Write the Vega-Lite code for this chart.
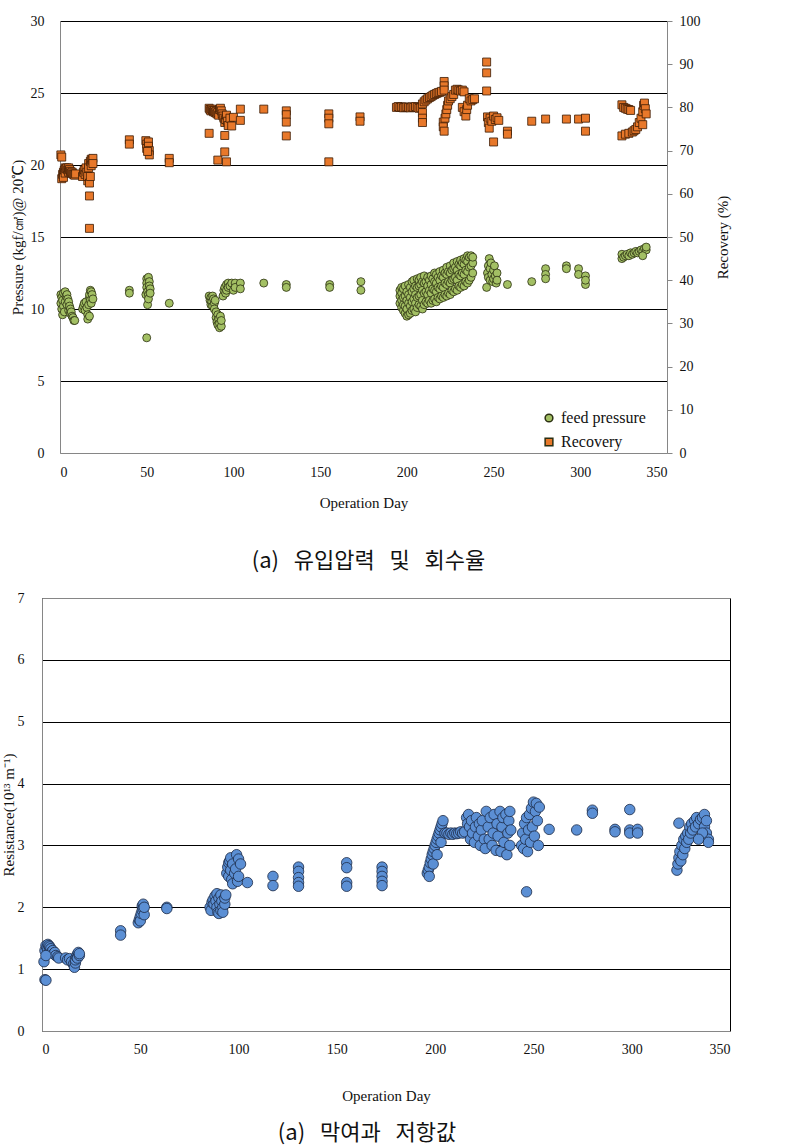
{
  "$schema": "https://vega.github.io/schema/vega-lite/v6.json",
  "background": "white",
  "padding": {"left": 0, "top": 14, "right": 5, "bottom": 5},
  "config": {
    "font": "Liberation Serif",
    "view": {"stroke": null},
    "axis": {
      "labelFont": "Liberation Serif", "titleFont": "Liberation Serif",
      "labelColor": "#111", "titleColor": "#111", "titleFontWeight": "normal",
      "labelFontSize": 14, "titleFontSize": 15,
      "domainColor": "#868686", "tickColor": "#868686", "gridOpacity": 1
    }
  },
  "datasets": {
    "pressure": [
      {"d":0.5,"v":11.0},{"d":0.5,"v":10.4},{"d":1,"v":10.8},{"d":1,"v":10.0},{"d":1.5,"v":9.6},{"d":1.5,"v":10.6},{"d":2,"v":11.1},{"d":2,"v":10.2},{"d":2.5,"v":9.8},{"d":3,"v":11.2},{"d":3,"v":10.5},{"d":3.5,"v":10.9},{"d":4,"v":11.0},{"d":4,"v":10.3},{"d":4.5,"v":10.7},{"d":5,"v":10.5},{"d":5,"v":9.9},{"d":5.5,"v":10.2},{"d":6,"v":10.0},{"d":6,"v":9.7},{"d":6.5,"v":9.8},{"d":7,"v":9.5},{"d":7.5,"v":9.4},{"d":8,"v":9.2},{"d":8.5,"v":9.2},
      {"d":13,"v":10.0},{"d":13.5,"v":10.2},{"d":14,"v":10.4},{"d":14.5,"v":9.9},{"d":15,"v":10.5},{"d":15.5,"v":10.1},{"d":16,"v":9.6},{"d":16,"v":9.3},{"d":16.5,"v":10.3},{"d":17,"v":10.8},{"d":17,"v":11.0},{"d":17,"v":9.5},{"d":17.5,"v":11.3},{"d":17.5,"v":10.6},{"d":18,"v":11.2},{"d":18,"v":10.4},{"d":18.5,"v":11.0},{"d":19,"v":10.7},
      {"d":40,"v":11.3},{"d":40,"v":11.1},
      {"d":49.5,"v":11.0},{"d":50,"v":12.1},{"d":50,"v":11.8},{"d":50,"v":11.5},{"d":50,"v":8.0},{"d":50.5,"v":11.2},{"d":50.5,"v":10.3},{"d":51,"v":11.0},{"d":51,"v":10.7},{"d":51,"v":12.2},{"d":51.5,"v":11.9},{"d":51.5,"v":11.6},{"d":52,"v":11.4},{"d":52,"v":11.1},
      {"d":63,"v":10.4},
      {"d":86,"v":10.9},{"d":86.5,"v":10.6},{"d":87,"v":10.3},{"d":87,"v":10.8},{"d":87.5,"v":10.5},{"d":88,"v":10.9},{"d":88,"v":10.2},{"d":88.5,"v":10.7},{"d":89,"v":10.4},{"d":89,"v":10.0},{"d":89.5,"v":10.6},{"d":90,"v":9.8},{"d":90,"v":9.4},{"d":90.5,"v":9.1},{"d":91,"v":8.9},{"d":91,"v":9.6},{"d":91.5,"v":9.3},{"d":92,"v":8.7},{"d":92,"v":9.0},{"d":92.5,"v":9.5},{"d":93,"v":8.8},{"d":93,"v":9.2},
      {"d":94,"v":10.9},{"d":94.5,"v":11.3},{"d":95,"v":11.5},{"d":95.5,"v":11.1},{"d":96,"v":11.7},{"d":96,"v":11.3},{"d":97,"v":11.8},{"d":97,"v":11.5},{"d":98,"v":11.6},{"d":99,"v":11.8},{"d":100,"v":11.3},{"d":101,"v":11.8},{"d":101,"v":11.5},{"d":104,"v":11.8},{"d":104,"v":11.4},
      {"d":117.5,"v":11.8},{"d":130.5,"v":11.7},{"d":130.5,"v":11.5},{"d":155.5,"v":11.7},{"d":155.5,"v":11.5},{"d":173.5,"v":11.9},{"d":173.5,"v":11.3},
      {"d":196,"v":10.4},{"d":196,"v":10.9},{"d":196,"v":11.3},
      {"d":197,"v":10.1},{"d":197,"v":10.6},{"d":197,"v":11.1},{"d":197,"v":11.5},
      {"d":198,"v":9.9},{"d":198,"v":10.3},{"d":198,"v":10.8},{"d":198,"v":11.4},
      {"d":199,"v":9.7},{"d":199,"v":10.2},{"d":199,"v":10.9},{"d":199,"v":11.6},
      {"d":200,"v":9.5},{"d":200,"v":10.0},{"d":200,"v":10.6},{"d":200,"v":11.2},
      {"d":201,"v":9.6},{"d":201,"v":10.4},{"d":201,"v":11.0},{"d":201,"v":11.7},
      {"d":202,"v":9.7},{"d":202,"v":10.2},{"d":202,"v":10.8},{"d":202,"v":11.5},
      {"d":203,"v":9.9},{"d":203,"v":10.5},{"d":203,"v":11.2},{"d":203,"v":11.9},
      {"d":204,"v":10.0},{"d":204,"v":10.7},{"d":204,"v":11.4},{"d":204,"v":12.0},
      {"d":205,"v":9.8},{"d":205,"v":10.4},{"d":205,"v":11.0},{"d":205,"v":11.6},
      {"d":206,"v":10.1},{"d":206,"v":10.8},{"d":206,"v":11.5},{"d":206,"v":12.1},
      {"d":207,"v":10.3},{"d":207,"v":10.9},{"d":207,"v":11.6},{"d":207,"v":12.0},
      {"d":208,"v":10.2},{"d":208,"v":11.0},{"d":208,"v":11.7},{"d":208,"v":12.2},
      {"d":209,"v":10.0},{"d":209,"v":10.6},{"d":209,"v":11.3},{"d":209,"v":11.9},
      {"d":210,"v":10.3},{"d":210,"v":11.1},{"d":210,"v":11.8},{"d":210,"v":12.3},
      {"d":211,"v":10.5},{"d":211,"v":11.2},{"d":211,"v":11.9},
      {"d":212,"v":10.4},{"d":212,"v":11.0},{"d":212,"v":11.6},{"d":212,"v":12.2},
      {"d":213,"v":10.6},{"d":213,"v":11.3},{"d":213,"v":12.0},
      {"d":214,"v":10.4},{"d":214,"v":11.1},{"d":214,"v":11.7},{"d":214,"v":12.3},
      {"d":215,"v":10.6},{"d":215,"v":11.4},{"d":215,"v":12.1},
      {"d":216,"v":10.7},{"d":216,"v":11.3},{"d":216,"v":11.9},{"d":216,"v":12.5},
      {"d":217,"v":10.5},{"d":217,"v":11.2},{"d":217,"v":11.8},{"d":217,"v":12.4},
      {"d":218,"v":10.8},{"d":218,"v":11.5},{"d":218,"v":12.2},
      {"d":219,"v":10.7},{"d":219,"v":11.4},{"d":219,"v":12.0},{"d":219,"v":12.6},
      {"d":220,"v":10.9},{"d":220,"v":11.6},{"d":220,"v":12.3},
      {"d":221,"v":10.8},{"d":221,"v":11.5},{"d":221,"v":12.2},{"d":221,"v":12.7},
      {"d":222,"v":11.0},{"d":222,"v":11.8},{"d":222,"v":12.5},
      {"d":223,"v":10.9},{"d":223,"v":11.7},{"d":223,"v":12.4},{"d":223,"v":12.9},
      {"d":224,"v":11.1},{"d":224,"v":11.9},{"d":224,"v":12.6},
      {"d":225,"v":11.0},{"d":225,"v":11.8},{"d":225,"v":12.5},{"d":225,"v":13.0},
      {"d":226,"v":11.3},{"d":226,"v":12.0},{"d":226,"v":12.7},
      {"d":227,"v":11.2},{"d":227,"v":12.1},{"d":227,"v":12.8},{"d":227,"v":13.2},
      {"d":228,"v":11.4},{"d":228,"v":12.2},{"d":228,"v":12.9},
      {"d":229,"v":11.3},{"d":229,"v":12.0},{"d":229,"v":12.7},{"d":229,"v":13.3},
      {"d":230,"v":11.6},{"d":230,"v":12.4},{"d":230,"v":13.1},
      {"d":231,"v":11.5},{"d":231,"v":12.3},{"d":231,"v":13.0},{"d":231,"v":13.4},
      {"d":232,"v":11.7},{"d":232,"v":12.5},{"d":232,"v":13.2},
      {"d":233,"v":11.6},{"d":233,"v":12.4},{"d":233,"v":13.1},{"d":233,"v":13.5},
      {"d":234,"v":11.9},{"d":234,"v":12.7},{"d":234,"v":13.4},
      {"d":235,"v":11.8},{"d":235,"v":12.6},{"d":235,"v":13.3},{"d":235,"v":13.7},
      {"d":236,"v":12.0},{"d":236,"v":12.9},{"d":236,"v":13.6},
      {"d":237,"v":12.2},{"d":237,"v":13.0},{"d":237,"v":13.7},
      {"d":238,"v":12.5},{"d":238,"v":13.2},{"d":238,"v":13.6},
      {"d":246,"v":11.5},{"d":246.5,"v":12.5},{"d":247,"v":13.0},{"d":247,"v":12.2},{"d":247.5,"v":13.5},{"d":248,"v":12.8},{"d":248,"v":12.0},{"d":248.5,"v":13.2},{"d":249,"v":12.4},{"d":249.5,"v":11.9},{"d":250,"v":12.7},{"d":250,"v":12.1},{"d":250.5,"v":13.0},{"d":251,"v":12.3},{"d":251.5,"v":11.8},{"d":252,"v":12.5},{"d":252,"v":12.0},
      {"d":258,"v":11.7},{"d":272,"v":11.9},{"d":280,"v":12.8},{"d":280,"v":12.4},{"d":280,"v":12.1},{"d":292,"v":13.0},{"d":292,"v":12.8},{"d":299,"v":12.8},{"d":299,"v":12.4},{"d":303,"v":12.3},{"d":303,"v":11.7},{"d":303,"v":12.0},
      {"d":324,"v":13.5},{"d":324,"v":13.8},{"d":325,"v":13.6},{"d":326,"v":13.7},{"d":327,"v":13.8},{"d":328,"v":13.7},{"d":329,"v":13.9},{"d":330,"v":13.8},{"d":331,"v":13.9},{"d":332,"v":14.0},{"d":333,"v":13.9},{"d":334,"v":14.0},{"d":335,"v":14.1},{"d":336,"v":14.0},{"d":337,"v":14.2},{"d":338,"v":14.1},{"d":336,"v":13.7},{"d":338,"v":14.3}
    ],
    "recovery": [
      {"d":0.5,"v":69},{"d":1,"v":68.5},
      {"d":1,"v":63.5},{"d":1.5,"v":64.5},{"d":2,"v":65},{"d":2,"v":63.8},{"d":2.5,"v":65.5},{"d":3,"v":66},{"d":3,"v":64.8},{"d":3.5,"v":65.8},{"d":4,"v":66},{"d":4.5,"v":65.5},{"d":5,"v":66},{"d":5,"v":65},{"d":5.5,"v":65.6},{"d":6,"v":65.2},{"d":6.5,"v":64.8},{"d":7,"v":65},{"d":7.5,"v":64.6},{"d":8,"v":64.5},{"d":8.5,"v":64.3},{"d":9,"v":64.6},
      {"d":13,"v":64},{"d":13.5,"v":65},{"d":14,"v":65.5},{"d":14.5,"v":64.5},{"d":15,"v":66},{"d":15.5,"v":65},{"d":16,"v":63},{"d":16,"v":64},{"d":16.5,"v":67},{"d":16.5,"v":66},{"d":17,"v":62.5},{"d":17,"v":59.5},{"d":17,"v":52},{"d":17.5,"v":64},{"d":17.5,"v":67.5},{"d":18,"v":68},{"d":18,"v":66.5},{"d":18.5,"v":67.8},{"d":19,"v":68.2},{"d":19,"v":67},
      {"d":40,"v":72.5},{"d":40,"v":71.5},
      {"d":49.5,"v":72.3},{"d":50,"v":71.5},{"d":50,"v":70.5},{"d":51,"v":72},{"d":51,"v":71},{"d":51.5,"v":70},{"d":51.5,"v":69},{"d":50.5,"v":69.8},
      {"d":63,"v":68.2},{"d":63,"v":67.2},
      {"d":86,"v":79.8},{"d":86.5,"v":79.5},{"d":87,"v":79.2},{"d":87.5,"v":79.6},{"d":88,"v":79.3},{"d":88.5,"v":79},{"d":89,"v":79.2},{"d":89.5,"v":78.8},{"d":90,"v":79},{"d":90.5,"v":78.5},{"d":91,"v":78.8},{"d":91.5,"v":78.2},{"d":92,"v":79.5},{"d":92.5,"v":79.8},{"d":93,"v":79.2},{"d":93.5,"v":78.5},{"d":94,"v":78},{"d":94.5,"v":77.5},{"d":95,"v":76.5},{"d":95.5,"v":77.2},{"d":96,"v":78.2},{"d":96.5,"v":76.8},{"d":97,"v":75.8},{"d":98,"v":77.5},{"d":100,"v":77.7},{"d":99,"v":75.7},
      {"d":86,"v":74},{"d":91,"v":67.8},{"d":95,"v":73.5},{"d":95,"v":69.7},{"d":96,"v":67.4},
      {"d":104,"v":79.6},{"d":104,"v":77},
      {"d":117.5,"v":79.6},
      {"d":130.5,"v":79.2},{"d":130.5,"v":78.3},{"d":130.5,"v":76.6},{"d":130.5,"v":73.4},
      {"d":155,"v":78.5},{"d":155,"v":77.5},{"d":155,"v":76.2},{"d":155,"v":67.4},
      {"d":173,"v":77.8},{"d":173,"v":76.8},
      {"d":194,"v":80},{"d":195,"v":80.2},{"d":196,"v":80},{"d":197,"v":80.1},{"d":198,"v":79.9},{"d":199,"v":80},{"d":200,"v":80.1},{"d":201,"v":80},{"d":202,"v":79.9},{"d":203,"v":80.1},{"d":204,"v":80},{"d":205,"v":80.2},{"d":206,"v":80},{"d":207,"v":79.8},{"d":208,"v":79.9},
      {"d":209,"v":78.8},{"d":209,"v":77.5},{"d":209,"v":76.5},
      {"d":209,"v":80.8},{"d":210,"v":81.3},{"d":211,"v":81.7},{"d":212,"v":82},{"d":213,"v":82.3},{"d":214,"v":82.5},{"d":215,"v":82.8},{"d":216,"v":83},{"d":217,"v":83.2},{"d":218,"v":83.4},{"d":219,"v":83.5},{"d":220,"v":83.7},
      {"d":221.5,"v":86},{"d":221.5,"v":85},{"d":221.5,"v":84},
      {"d":221,"v":76.6},{"d":221,"v":75.5},{"d":221.5,"v":74.5},{"d":222,"v":77.5},{"d":222.5,"v":78.5},{"d":223,"v":79.5},{"d":223.5,"v":80.5},{"d":224,"v":81.5},{"d":225,"v":82},{"d":226,"v":82.5},{"d":227,"v":83},{"d":228,"v":84},{"d":229,"v":84.2},{"d":230,"v":84},{"d":231,"v":83.8},{"d":232,"v":84},{"d":233,"v":83.6},
      {"d":232,"v":80},{"d":233,"v":79},{"d":234,"v":78},{"d":234.5,"v":79.5},{"d":235,"v":80.5},{"d":236,"v":82},{"d":237,"v":81.5},{"d":238,"v":81.8},{"d":239,"v":82},
      {"d":246,"v":90.5},{"d":246,"v":88},{"d":246,"v":83.8},
      {"d":246.5,"v":77.8},{"d":247,"v":76.5},{"d":247.5,"v":75.2},{"d":248,"v":77.5},{"d":249,"v":76.8},{"d":250,"v":78},{"d":251,"v":77.2},{"d":252,"v":77.6},{"d":250,"v":72},{"d":253,"v":77},
      {"d":258,"v":74.5},{"d":258,"v":73.8},
      {"d":272,"v":76.8},{"d":280,"v":77.3},{"d":292,"v":77.3},{"d":299,"v":77.3},{"d":303,"v":77.5},{"d":303,"v":74.5},
      {"d":324,"v":80.6},{"d":325,"v":80},{"d":326,"v":79.8},{"d":327,"v":79.6},{"d":328,"v":79.5},{"d":329,"v":79.3},
      {"d":324,"v":73.4},{"d":326,"v":73.8},{"d":328,"v":74},{"d":330,"v":74.3},{"d":331,"v":74.6},{"d":332,"v":74.9},{"d":333,"v":75.5},{"d":334,"v":76.5},{"d":335,"v":77.5},{"d":336,"v":79},{"d":336.5,"v":80.5},{"d":337,"v":81},{"d":337.5,"v":79.7},{"d":338,"v":78.5},{"d":336,"v":76}
    ],
    "resistance": [
      {"d":1,"v":1.12},{"d":1.5,"v":0.83},{"d":2,"v":0.82},
      {"d":1.5,"v":1.3},{"d":2,"v":1.38},{"d":2.5,"v":1.35},{"d":3,"v":1.4},{"d":3,"v":1.32},{"d":3.5,"v":1.38},{"d":4,"v":1.3},{"d":4,"v":1.36},{"d":4.5,"v":1.33},{"d":5,"v":1.28},{"d":5.5,"v":1.3},{"d":6,"v":1.25},{"d":6.5,"v":1.27},{"d":7,"v":1.22},{"d":8,"v":1.2},{"d":8.5,"v":1.18},{"d":2,"v":1.22},
      {"d":12,"v":1.18},{"d":13,"v":1.15},{"d":14,"v":1.17},{"d":15,"v":1.12},{"d":16,"v":1.08},{"d":16.5,"v":1.03},{"d":17,"v":1.1},{"d":17,"v":1.15},{"d":17.5,"v":1.2},{"d":18,"v":1.24},{"d":18,"v":1.18},{"d":18.5,"v":1.27},{"d":19,"v":1.22},{"d":19,"v":1.25},
      {"d":40,"v":1.62},{"d":40,"v":1.55},
      {"d":49,"v":1.75},{"d":49.5,"v":1.8},{"d":50,"v":1.85},{"d":50,"v":1.78},{"d":50.5,"v":1.9},{"d":51,"v":1.95},{"d":51,"v":2.02},{"d":51.5,"v":2.05},{"d":51.5,"v":1.98},{"d":52,"v":1.88},{"d":52,"v":2.0},
      {"d":63.5,"v":2.0},{"d":63.5,"v":1.98},
      {"d":85.5,"v":2.0},{"d":86,"v":1.95},{"d":86.5,"v":2.08},{"d":87,"v":2.12},{"d":87.5,"v":2.05},{"d":88,"v":2.18},{"d":88.5,"v":2.1},{"d":89,"v":2.22},{"d":89,"v":2.0},{"d":89.5,"v":1.92},{"d":90,"v":2.15},{"d":90,"v":1.9},{"d":90.5,"v":2.05},{"d":91,"v":2.2},{"d":91,"v":1.95},{"d":91.5,"v":2.1},{"d":92,"v":2.0},{"d":92,"v":1.92},{"d":93,"v":2.05},{"d":93,"v":2.15},{"d":93.5,"v":2.2},
      {"d":94,"v":2.55},{"d":94.5,"v":2.65},{"d":95,"v":2.72},{"d":95,"v":2.5},{"d":95.5,"v":2.75},{"d":96,"v":2.6},{"d":96,"v":2.8},{"d":96.5,"v":2.45},{"d":97,"v":2.7},{"d":97,"v":2.38},{"d":98,"v":2.55},{"d":98.5,"v":2.62},{"d":99,"v":2.85},{"d":99.5,"v":2.42},{"d":100,"v":2.5},{"d":100,"v":2.78},{"d":101,"v":2.7},
      {"d":104.5,"v":2.4},
      {"d":117.5,"v":2.5},{"d":117.5,"v":2.35},
      {"d":130.5,"v":2.65},{"d":130.5,"v":2.58},{"d":130.5,"v":2.48},{"d":130.5,"v":2.4},{"d":130.5,"v":2.34},
      {"d":155,"v":2.72},{"d":155,"v":2.64},{"d":155,"v":2.4},{"d":155,"v":2.34},
      {"d":173,"v":2.65},{"d":173,"v":2.58},{"d":173,"v":2.5},{"d":173,"v":2.42},{"d":173,"v":2.35},
      {"d":196,"v":2.55},{"d":196.5,"v":2.6},{"d":197,"v":2.65},{"d":197.5,"v":2.72},{"d":198,"v":2.78},{"d":198.5,"v":2.85},{"d":199,"v":2.9},{"d":199.5,"v":2.95},{"d":200,"v":3.0},{"d":200.5,"v":3.05},{"d":201,"v":3.1},{"d":201.5,"v":3.15},{"d":202,"v":3.2},{"d":202.5,"v":3.25},{"d":203,"v":3.3},{"d":203.5,"v":3.35},{"d":204,"v":3.4},{"d":197,"v":2.5},{"d":199,"v":2.7},{"d":201,"v":2.85},{"d":203,"v":3.05},{"d":205,"v":3.2},
      {"d":206,"v":3.2},{"d":207,"v":3.18},{"d":208,"v":3.2},{"d":209,"v":3.18},{"d":210,"v":3.2},{"d":211,"v":3.19},{"d":212,"v":3.2},{"d":213,"v":3.22},{"d":214,"v":3.2},{"d":215,"v":3.22},
      {"d":216,"v":3.45},{"d":216.5,"v":3.35},{"d":217,"v":3.5},{"d":217.5,"v":3.3},{"d":218,"v":3.1},{"d":218.5,"v":3.4},{"d":219,"v":3.2},{"d":220,"v":3.05},{"d":220.5,"v":3.3},{"d":221,"v":3.45},{"d":222,"v":3.15},{"d":222.5,"v":3.35},{"d":223,"v":3.0},{"d":223.5,"v":3.25},{"d":224,"v":3.4},{"d":225,"v":3.1},{"d":225.5,"v":2.95},
      {"d":226,"v":3.55},{"d":227,"v":3.3},{"d":227.5,"v":3.1},{"d":228,"v":3.45},{"d":229,"v":3.0},{"d":229.5,"v":3.2},{"d":230,"v":3.5},{"d":231,"v":2.92},{"d":231.5,"v":3.35},{"d":232,"v":3.15},{"d":233,"v":3.55},{"d":233.5,"v":2.9},{"d":234,"v":3.3},{"d":234.5,"v":3.45},{"d":235,"v":3.05},{"d":236,"v":3.5},{"d":236.5,"v":2.85},{"d":237,"v":3.2},{"d":237.5,"v":3.4},{"d":238,"v":3.0},{"d":238,"v":3.55},{"d":238.5,"v":3.25},
      {"d":244,"v":3.0},{"d":244.5,"v":3.2},{"d":245,"v":2.95},{"d":245.5,"v":3.35},{"d":246,"v":3.1},{"d":246.5,"v":3.45},{"d":247,"v":2.9},{"d":247.5,"v":3.25},{"d":248,"v":3.5},{"d":248.5,"v":3.05},{"d":249,"v":3.6},{"d":249.5,"v":3.3},{"d":250,"v":3.7},{"d":250.5,"v":3.15},{"d":251,"v":3.55},{"d":251.5,"v":3.68},{"d":252,"v":3.4},{"d":252.5,"v":3.0},{"d":253,"v":3.62},
      {"d":246.5,"v":2.25},
      {"d":258,"v":3.26},{"d":272,"v":3.25},{"d":280,"v":3.57},{"d":280,"v":3.52},{"d":291.5,"v":3.26},{"d":291.5,"v":3.22},{"d":299,"v":3.58},{"d":299,"v":3.25},{"d":299,"v":3.2},{"d":303,"v":3.26},{"d":303,"v":3.2},
      {"d":323,"v":2.6},{"d":323.5,"v":2.7},{"d":324,"v":2.8},{"d":324,"v":3.36},{"d":324.5,"v":2.9},{"d":325,"v":2.75},{"d":325.5,"v":3.0},{"d":326,"v":2.85},{"d":326.5,"v":3.1},{"d":327,"v":2.95},{"d":327.5,"v":3.15},{"d":328,"v":3.05},{"d":328.5,"v":3.2},{"d":329,"v":3.1},{"d":329.5,"v":3.3},{"d":330,"v":3.2},{"d":330.5,"v":3.35},{"d":331,"v":3.25},{"d":332,"v":3.4},{"d":332.5,"v":3.3},{"d":333,"v":3.45},{"d":334,"v":3.35},{"d":335,"v":3.42},{"d":336,"v":3.45},{"d":337,"v":3.5},{"d":337,"v":3.3},{"d":338,"v":3.4},{"d":338,"v":3.2},{"d":339,"v":3.1},{"d":339,"v":3.05},{"d":336,"v":3.2},{"d":334,"v":3.1}
    ]
  },
  "concat": [
    {
      "width": 625,
      "height": 432,
      "title": {"text": "(a) \u00a0\u00a0유입압력 \u00a0\u00a0및 \u00a0\u00a0회수율", "orient": "bottom", "anchor": "middle", "font": "Noto Sans CJK KR", "fontSize": 22, "fontWeight": "normal", "color": "#111", "offset": 41, "dx": 14},
      "layer": [
        {
          "data": {"name": "pressure"},
          "mark": {"type": "point", "filled": true, "size": 64, "opacity": 1, "stroke": "#2b2f12", "strokeWidth": 0.8},
          "encoding": {
            "x": {"field": "d", "type": "quantitative", "scale": {"domain": [0, 350], "nice": false, "range": [18, 625]},
                  "axis": {"values": [0, 50, 100, 150, 200, 250, 300, 350], "title": "Operation Day", "grid": false, "ticks": false, "labelPadding": 12, "titlePadding": 16}},
            "y": {"field": "v", "type": "quantitative", "scale": {"domain": [0, 30], "nice": false},
                  "axis": {"orient": "left", "offset": -18, "values": [0, 5, 10, 15, 20, 25, 30], "title": "Pressure (kgf/㎠)@ 20℃)", "grid": true,
                           "gridColor": {"condition": {"test": "datum.value === 0", "value": "#868686"}, "value": "#000"},
                           "ticks": false, "labelPadding": 16, "titlePadding": 5}},
            "color": {"datum": "feed pressure", "scale": {"domain": ["feed pressure", "Recovery"], "range": ["#a3c064", "#e8782a"]},
                      "legend": {"orient": "none", "legendX": 499, "legendY": 389, "title": null, "padding": 0, "labelFont": "Liberation Serif", "labelFontSize": 16, "labelColor": "#111", "symbolSize": 60, "rowPadding": 8, "labelOffset": 4,
                                 "encode": {"symbols": {"update": {"stroke": {"value": "#333"}, "strokeWidth": {"value": 0.8}}}}}},
            "shape": {"datum": "feed pressure", "scale": {"domain": ["feed pressure", "Recovery"], "range": ["circle", "square"]}}
          }
        },
        {
          "data": {"name": "recovery"},
          "mark": {"type": "point", "filled": true, "size": 64, "opacity": 1, "stroke": "#3a1a04", "strokeWidth": 0.8},
          "encoding": {
            "x": {"field": "d", "type": "quantitative", "scale": {"domain": [0, 350], "nice": false, "range": [18, 625]},
                  "axis": {"values": [0, 50, 100, 150, 200, 250, 300, 350], "title": "Operation Day", "grid": false, "ticks": false, "labelPadding": 12, "titlePadding": 16}},
            "y": {"field": "v", "type": "quantitative", "scale": {"domain": [0, 100], "nice": false},
                  "axis": {"orient": "right", "values": [0, 10, 20, 30, 40, 50, 60, 70, 80, 90, 100], "title": "Recovery (%)", "titleAngle": 270, "grid": false, "ticks": true, "tickSize": 5, "labelPadding": 7, "titlePadding": 30}},
            "color": {"datum": "Recovery", "scale": {"domain": ["feed pressure", "Recovery"], "range": ["#a3c064", "#e8782a"]}},
            "shape": {"datum": "Recovery", "scale": {"domain": ["feed pressure", "Recovery"], "range": ["circle", "square"]}}
          }
        }
      ],
      "resolve": {"scale": {"y": "independent"}}
    },
    {
      "width": 688,
      "height": 433,
      "view": {"stroke": "#000"},
      "data": {"name": "resistance"},
      "title": {"text": "(a) \u00a0\u00a0막여과 \u00a0\u00a0저항값", "orient": "bottom", "anchor": "middle", "font": "Noto Sans CJK KR", "fontSize": 22, "fontWeight": "normal", "color": "#111", "offset": 20, "dx": -19},
      "mark": {"type": "point", "shape": "circle", "filled": true, "size": 110, "opacity": 1, "color": "#5b8fd4", "stroke": "#1c2a45", "strokeWidth": 0.8},
      "encoding": {
        "x": {"field": "d", "type": "quantitative", "scale": {"domain": [0, 350], "nice": false},
              "axis": {"values": [0, 50, 100, 150, 200, 250, 300, 350], "title": "Operation Day", "grid": false, "ticks": false, "labelPadding": 11, "titlePadding": 32}},
        "y": {"field": "v", "type": "quantitative", "scale": {"domain": [0, 7], "nice": false},
              "axis": {"values": [0, 1, 2, 3, 4, 5, 6, 7], "title": "Resistance(10¹³ m⁻¹)", "grid": true,
                       "gridColor": {"condition": {"test": "datum.value === 0 || datum.value === 7", "value": "#868686"}, "value": "#000"},
                       "ticks": false, "labelPadding": 18, "titlePadding": 1}}
      }
    }
  ],
  "columns": 1,
  "spacing": 18
}
